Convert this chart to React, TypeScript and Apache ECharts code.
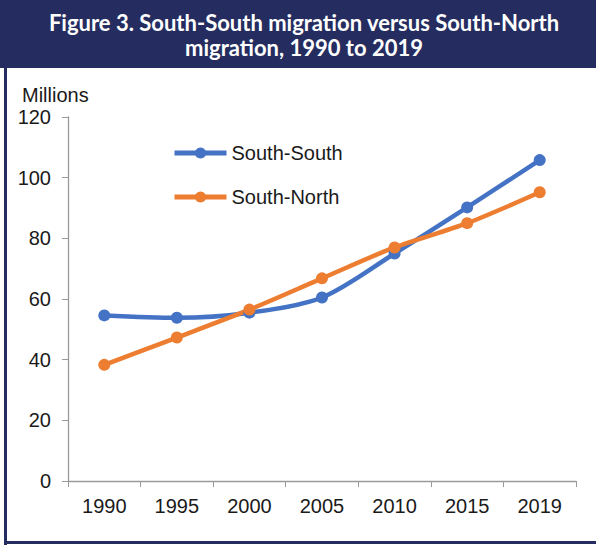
import React, { useEffect, useRef } from "react";
import * as echarts from "echarts";

const years = ["1990", "1995", "2000", "2005", "2010", "2015", "2019"];
const southSouth = [54.6, 53.8, 55.5, 60.5, 75.0, 90.2, 105.8];
const southNorth = [38.3, 47.3, 56.5, 66.8, 77.0, 85.0, 95.2];
const titleLines = ["Figure 3. South-South migration versus South-North", "migration, 1990 to 2019"];

const NAVY = "#252d60";
const BLUE = "#4472c4";
const ORANGE = "#ed7d31";
const FONT = "'Liberation Sans', Arial, sans-serif";
const TITLE_FONT = "bold 22px Lato, 'Open Sans', sans-serif";

export default function App() {
  const ref = useRef<HTMLDivElement>(null);
  useEffect(() => {
    if (!ref.current) return;
    const chart = echarts.init(ref.current, undefined, { renderer: "svg" });
    chart.setOption({
      animation: false,
      backgroundColor: "#ffffff",
      graphic: [
        { type: "rect", shape: { x: 0, y: 0, width: 596, height: 68 }, style: { fill: NAVY } },
        { type: "rect", shape: { x: 4, y: 60, width: 3, height: 485 }, style: { fill: NAVY } },
        { type: "rect", shape: { x: 4, y: 541, width: 592, height: 3 }, style: { fill: NAVY } },
        {
          type: "text",
          x: 304,
          y: 22,
          style: {
            text: titleLines[0],
            fill: "#ffffff",
            font: TITLE_FONT,
            align: "center",
            verticalAlign: "middle",
          },
        },
        {
          type: "text",
          x: 304,
          y: 47,
          style: {
            text: titleLines[1],
            fill: "#ffffff",
            font: TITLE_FONT,
            align: "center",
            verticalAlign: "middle",
          },
        },
        {
          type: "text",
          x: 22,
          y: 95,
          style: {
            text: "Millions",
            fill: "#1a1a1a",
            font: "20px " + FONT,
            align: "left",
            verticalAlign: "middle",
          },
        },
      ],
      legend: {
        orient: "vertical",
        left: 172,
        top: 143,
        padding: 0,
        itemWidth: 52,
        itemHeight: 14,
        itemGap: 24,
        lineStyle: { width: 5 },
        textStyle: { fontFamily: FONT, fontSize: 20, color: "#1a1a1a" },
        data: ["South-South", "South-North"],
      },
      grid: { left: 68, right: 20, top: 117, bottom: 66, containLabel: false },
      xAxis: {
        type: "category",
        data: years,
        boundaryGap: true,
        axisLine: { lineStyle: { color: "#9a9a9a", width: 1.3 } },
        axisTick: { show: true, length: 6, inside: false, lineStyle: { color: "#9a9a9a" } },
        axisLabel: { fontFamily: FONT, fontSize: 20, color: "#1a1a1a", margin: 15 },
      },
      yAxis: {
        type: "value",
        min: 0,
        max: 120,
        interval: 20,
        axisLine: { show: true, lineStyle: { color: "#9a9a9a", width: 1.3 } },
        axisTick: { show: true, length: 6, lineStyle: { color: "#9a9a9a" } },
        splitLine: { show: false },
        axisLabel: { fontFamily: FONT, fontSize: 20, color: "#1a1a1a", margin: 17 },
      },
      series: [
        {
          name: "South-South",
          type: "line",
          data: southSouth,
          smooth: 0.3,
          symbol: "circle",
          symbolSize: 12,
          lineStyle: { color: BLUE, width: 4.5 },
          itemStyle: { color: BLUE },
        },
        {
          name: "South-North",
          type: "line",
          data: southNorth,
          smooth: 0.3,
          symbol: "circle",
          symbolSize: 12,
          lineStyle: { color: ORANGE, width: 4.5 },
          itemStyle: { color: ORANGE },
        },
      ],
    });
    return () => chart.dispose();
  }, []);
  return (
    <div
      ref={ref}
      style={{ position: "fixed", left: 0, top: 0, width: 596, height: 547 }}
    />
  );
}
